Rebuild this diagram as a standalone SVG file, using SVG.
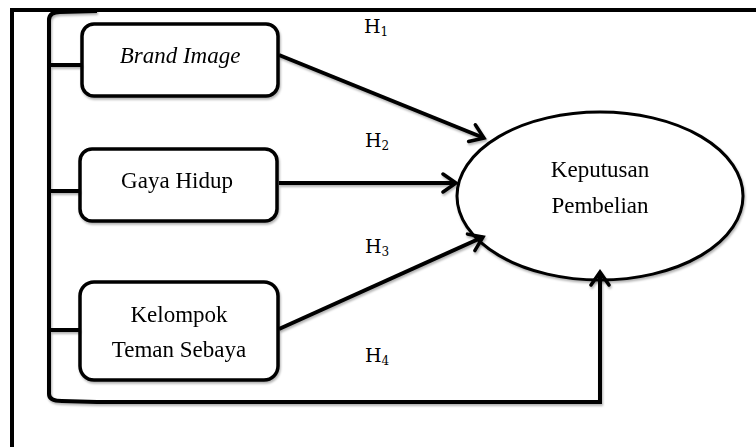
<svg xmlns="http://www.w3.org/2000/svg" width="756" height="447" viewBox="0 0 756 447">
  <defs>
    <filter id="sh" x="-10%" y="-10%" width="120%" height="130%">
      <feDropShadow dx="1" dy="2" stdDeviation="1.2" flood-color="#000" flood-opacity="0.3"/>
    </filter>
    <marker id="arr" markerUnits="userSpaceOnUse" markerWidth="26" markerHeight="26" refX="15" refY="11" orient="auto" viewBox="0 0 26 22">
      <path d="M2,2 L15,11 L2,20" fill="none" stroke="#000" stroke-width="3.5" stroke-linecap="round" stroke-linejoin="miter"/>
    </marker>
  </defs>
  <style>
    .box { fill: #fff; stroke: #000; stroke-width: 3.5; }
    .line { fill: none; stroke: #000; stroke-width: 4; }
    .lbl { font-family: "Liberation Serif", "Times New Roman", serif; font-size: 23px; fill: #000; text-anchor: middle; }
    .h { font-family: "DejaVu Serif", serif; font-size: 19px; fill: #000; }
    .sub { font-size: 12px; }
  </style>
  <rect width="756" height="447" fill="#fff"/>
  <g id="frame">
    <path d="M10,10 H756 M12,8 V447" fill="none" stroke="#000" stroke-width="4"/>
  </g>
  <g id="brand-image" filter="url(#sh)">
    <rect class="box" x="82" y="24" width="196" height="72" rx="12"/>
    <text class="lbl" x="180" y="63" font-style="italic">Brand Image</text>
  </g>
  <g id="gaya-hidup" filter="url(#sh)">
    <rect class="box" x="80" y="149" width="197" height="72" rx="12"/>
    <text class="lbl" x="177" y="188">Gaya Hidup</text>
  </g>
  <g id="kelompok" filter="url(#sh)">
    <rect class="box" x="80" y="282" width="198" height="98" rx="14"/>
    <text class="lbl" x="179" y="322">Kelompok</text>
    <text class="lbl" x="179" y="357">Teman Sebaya</text>
  </g>
  <g id="keputusan" filter="url(#sh)">
    <ellipse cx="600" cy="196" rx="143" ry="84" fill="#fff" stroke="#000" stroke-width="3"/>
    <text class="lbl" x="600" y="177">Keputusan</text>
    <text class="lbl" x="600" y="213">Pembelian</text>
  </g>
  <g id="connectors" filter="url(#sh)">
    <path class="line" d="M97,11 L60,12 Q49,12 49,20 V394 Q49,401 62,401 L97,402 H602"/>
    <path class="line" d="M49,65 H82 M49,191 H80 M49,330 H80"/>
    <path class="line" d="M279,55 L484,138" marker-end="url(#arr)"/>
    <path class="line" d="M279,183 L456,183" marker-end="url(#arr)"/>
    <path class="line" d="M279,329 L483,237" marker-end="url(#arr)"/>
    <path class="line" d="M600,403 V272" marker-end="url(#arr)"/>
  </g>
  <g id="labels">
    <text class="h" x="364" y="33">H<tspan class="sub" dy="3">1</tspan></text>
    <text class="h" x="365" y="147">H<tspan class="sub" dy="3">2</tspan></text>
    <text class="h" x="365" y="253">H<tspan class="sub" dy="3">3</tspan></text>
    <text class="h" x="365" y="362">H<tspan class="sub" dy="3">4</tspan></text>
  </g>
</svg>
